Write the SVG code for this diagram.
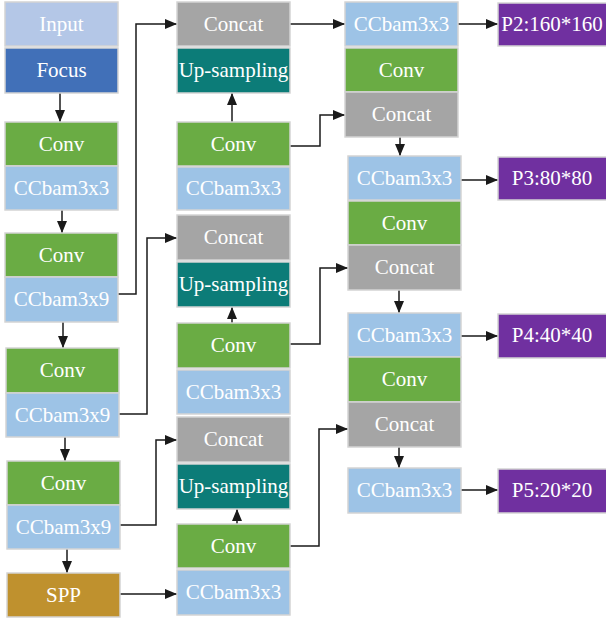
<svg xmlns="http://www.w3.org/2000/svg" width="606" height="620" viewBox="0 0 606 620" font-family="'Liberation Serif', 'DejaVu Serif', Tinos, Times, serif">
<defs>
<marker id="ah" viewBox="0 0 12 10" refX="12" refY="5" markerWidth="12" markerHeight="10" markerUnits="userSpaceOnUse" orient="auto">
<path d="M0,0 L12,5 L0,10 Z" fill="#1a1a1a"/>
</marker>
<style>
rect{stroke:#d4d4d4;stroke-width:1.5}
text{font-family:'Liberation Serif','DejaVu Serif',Tinos,Times,serif;font-size:21px;fill:#ffffff;text-anchor:middle}
.in{fill:#b4c7e7}.fo{fill:#4170b8}.cv{fill:#6aac44}.cb{fill:#9dc3e6}.cc{fill:#a5a5a5}.up{fill:#0c7c78}.sp{fill:#bf912e}.pp{fill:#7030a0}
#connectors path{fill:none;stroke:#1a1a1a;stroke-width:1.5;marker-end:url(#ah)}
</style>
</defs>
<rect x="0" y="0" width="606" height="620" fill="#ffffff" style="stroke:none"/>
<g id="connectors">
<path d="M60,93 V122"/>
<path d="M62,210 V233"/>
<path d="M63,322 V348"/>
<path d="M65,437 V461"/>
<path d="M67,549 V573"/>
<path d="M118,294 H136 V24 H177"/>
<path d="M118,414 H147 V238 H177"/>
<path d="M120,525 H156 V440 H177"/>
<path d="M120,594 H177"/>
<path d="M232,122 V93"/>
<path d="M232,323 V307"/>
<path d="M237,524 V509"/>
<path d="M290,24 H345"/>
<path d="M290,146 H320 V115 H345"/>
<path d="M290,344 H320 V268 H348"/>
<path d="M290,546 H319 V429 H348"/>
<path d="M400,137 V156"/>
<path d="M399,290 V313"/>
<path d="M399,447 V468"/>
<path d="M458,24 H498"/>
<path d="M461,180 H498"/>
<path d="M461,336 H498"/>
<path d="M461,490 H498"/>
</g>
<g id="input"><rect class="in" x="5" y="2" width="113" height="44"/><text x="61.5" y="31">Input</text></g>
<g id="focus"><rect class="fo" x="5" y="48" width="113" height="45"/><text x="61.5" y="77">Focus</text></g>
<g id="conv-l1"><rect class="cv" x="5" y="122" width="113" height="44"/><text x="61.5" y="151">Conv</text></g>
<g id="ccbam-l1"><rect class="cb" x="5" y="166" width="113" height="44"/><text x="61.5" y="195">CCbam3x3</text></g>
<g id="conv-l2"><rect class="cv" x="5" y="233" width="113" height="44"/><text x="61.5" y="262">Conv</text></g>
<g id="ccbam-l2"><rect class="cb" x="5" y="277" width="113" height="45"/><text x="61.5" y="306">CCbam3x9</text></g>
<g id="conv-l3"><rect class="cv" x="6" y="348" width="113" height="45"/><text x="62.5" y="377">Conv</text></g>
<g id="ccbam-l3"><rect class="cb" x="6" y="393" width="113" height="44"/><text x="62.5" y="422">CCbam3x9</text></g>
<g id="conv-l4"><rect class="cv" x="7" y="461" width="113" height="44"/><text x="63.5" y="490">Conv</text></g>
<g id="ccbam-l4"><rect class="cb" x="7" y="505" width="113" height="44"/><text x="63.5" y="534">CCbam3x9</text></g>
<g id="spp"><rect class="sp" x="7" y="573" width="113" height="44"/><text x="63.5" y="602">SPP</text></g>
<g id="concat-m1"><rect class="cc" x="177" y="2" width="113" height="44"/><text x="233.5" y="31">Concat</text></g>
<g id="up-m1"><rect class="up" x="177" y="48" width="113" height="45"/><text x="233.5" y="77">Up-sampling</text></g>
<g id="conv-m1"><rect class="cv" x="177" y="122" width="113" height="44"/><text x="233.5" y="151">Conv</text></g>
<g id="ccbam-m1"><rect class="cb" x="177" y="167" width="113" height="43"/><text x="233.5" y="195">CCbam3x3</text></g>
<g id="concat-m2"><rect class="cc" x="177" y="215" width="113" height="45"/><text x="233.5" y="244">Concat</text></g>
<g id="up-m2"><rect class="up" x="177" y="262" width="113" height="45"/><text x="233.5" y="291">Up-sampling</text></g>
<g id="conv-m2"><rect class="cv" x="177" y="323" width="113" height="45"/><text x="233.5" y="352">Conv</text></g>
<g id="ccbam-m2"><rect class="cb" x="177" y="370" width="113" height="44"/><text x="233.5" y="399">CCbam3x3</text></g>
<g id="concat-m3"><rect class="cc" x="177" y="417" width="113" height="45"/><text x="233.5" y="446">Concat</text></g>
<g id="up-m3"><rect class="up" x="177" y="464" width="113" height="45"/><text x="233.5" y="493">Up-sampling</text></g>
<g id="conv-m3"><rect class="cv" x="177" y="524" width="113" height="44"/><text x="233.5" y="553">Conv</text></g>
<g id="ccbam-m3"><rect class="cb" x="177" y="570" width="113" height="45"/><text x="233.5" y="599">CCbam3x3</text></g>
<g id="ccbam-r1"><rect class="cb" x="345" y="2" width="113" height="44"/><text x="401.5" y="31">CCbam3x3</text></g>
<g id="conv-r1"><rect class="cv" x="345" y="48" width="113" height="44"/><text x="401.5" y="77">Conv</text></g>
<g id="concat-r1"><rect class="cc" x="345" y="92" width="113" height="45"/><text x="401.5" y="121">Concat</text></g>
<g id="ccbam-r2"><rect class="cb" x="348" y="156" width="113" height="44"/><text x="404.5" y="185">CCbam3x3</text></g>
<g id="conv-r2"><rect class="cv" x="348" y="201" width="113" height="44"/><text x="404.5" y="230">Conv</text></g>
<g id="concat-r2"><rect class="cc" x="348" y="245" width="113" height="45"/><text x="404.5" y="274">Concat</text></g>
<g id="ccbam-r3"><rect class="cb" x="348" y="313" width="113" height="44"/><text x="404.5" y="342">CCbam3x3</text></g>
<g id="conv-r3"><rect class="cv" x="348" y="357" width="113" height="45"/><text x="404.5" y="386">Conv</text></g>
<g id="concat-r3"><rect class="cc" x="348" y="402" width="113" height="45"/><text x="404.5" y="431">Concat</text></g>
<g id="ccbam-r4"><rect class="cb" x="348" y="468" width="113" height="45"/><text x="404.5" y="497">CCbam3x3</text></g>
<g id="p2"><rect class="pp" x="498" y="3" width="110" height="43"/><text x="552" y="31">P2:160*160</text></g>
<g id="p3"><rect class="pp" x="498" y="157" width="110" height="43"/><text x="552" y="185">P3:80*80</text></g>
<g id="p4"><rect class="pp" x="498" y="314" width="110" height="44"/><text x="552" y="342">P4:40*40</text></g>
<g id="p5"><rect class="pp" x="498" y="469" width="110" height="44"/><text x="552" y="497">P5:20*20</text></g>
</svg>
